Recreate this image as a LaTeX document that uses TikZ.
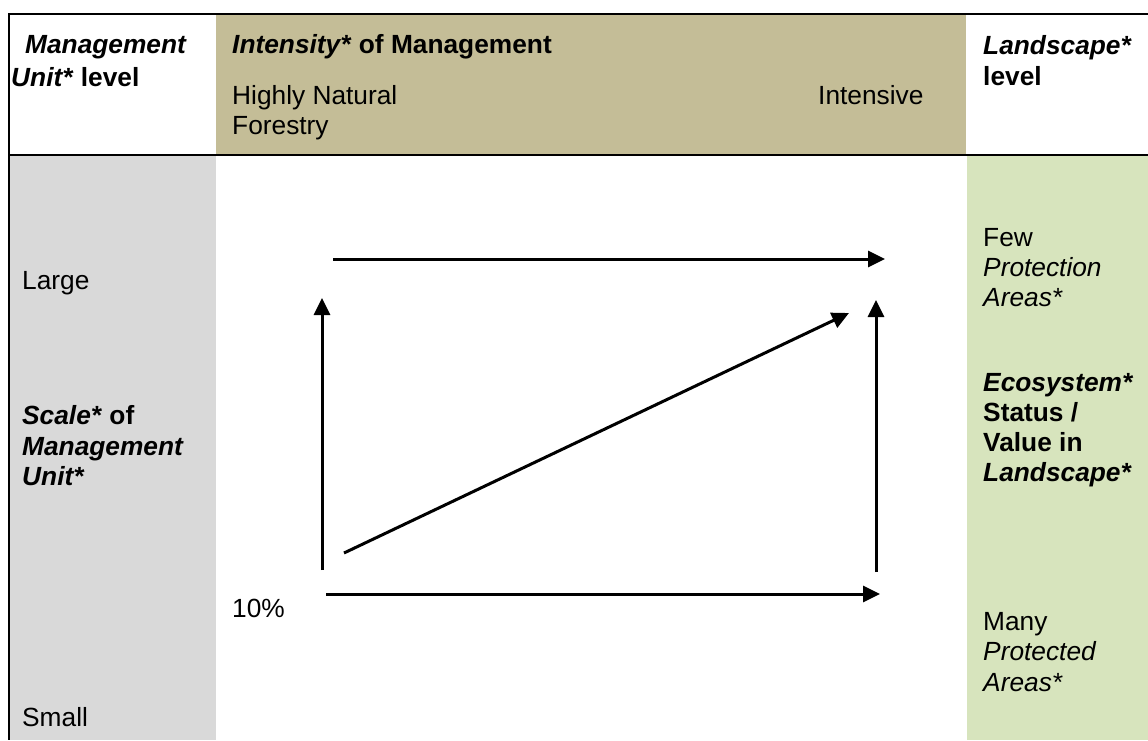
\documentclass[tikz,border=0pt]{standalone}
\usepackage{fontspec}
\setmainfont{Liberation Sans}
\usetikzlibrary{arrows.meta}
\definecolor{tancol}{HTML}{C4BD97}
\definecolor{graycol}{HTML}{D9D9D9}
\definecolor{greencol}{HTML}{D7E4BD}
\tikzset{
  txt/.style={anchor=base west,inner sep=0pt,font=\fontsize{26.3}{30.5}\selectfont},
  btxt/.style={txt,font=\fontsize{26.3}{30.5}\selectfont\bfseries},
  arr/.style={line width=3pt,-{Triangle[length=17pt,width=16pt]}},
  border/.style={line width=2.2pt,black}
}
\begin{document}
\begin{tikzpicture}[x=1pt,y=-1pt]
\useasboundingbox (0,0) rectangle (1148,740);
% cell fills
\fill[tancol] (216,15) rectangle (966,154);
\fill[graycol] (10,156) rectangle (216,740);
\fill[greencol] (967,156) rectangle (1148,740);
% borders
\draw[border] (9,14) -- (1148,14);
\draw[border] (9,155) -- (1148,155);
\draw[border] (9,13) -- (9,740);
% header left
\node[btxt] (hl1) at (25,53) {\textit{Management}};
\node[btxt] (hl2) at (11,86) {\textit{Unit*} level};
% header middle
\node[btxt] (hm1) at (232,53) {\textit{Intensity*} of Management};
\node[txt] (hm2) at (232,104) {Highly Natural};
\node[txt] (hm3) at (232,134) {Forestry};
\node[txt] (hm4) at (818,104) {Intensive};
% header right
\node[btxt] (hr1) at (983,54) {\textit{Landscape*}};
\node[btxt] (hr2) at (983,85) {level};
% left column
\node[txt] (large) at (22,289) {Large};
\node[btxt] (sc1) at (22,424) {\textit{Scale*} of};
\node[btxt] (sc2) at (22,455) {\textit{Management}};
\node[btxt] (sc3) at (22,485) {\textit{Unit*}};
\node[txt] (small) at (22,726) {Small};
% middle
\node[txt] (pct) at (232,617) {10\%};
% right column
\node[txt] (few1) at (983,246) {Few};
\node[txt] (few2) at (983,276) {\textit{Protection}};
\node[txt] (few3) at (983,306) {\textit{Areas*}};
\node[btxt] (eco1) at (983,391) {\textit{Ecosystem*}};
\node[btxt] (eco2) at (983,421) {Status /};
\node[btxt] (eco3) at (983,451) {Value in};
\node[btxt] (eco4) at (983,481) {\textit{Landscape*}};
\node[txt] (many1) at (983,630) {Many};
\node[txt] (many2) at (983,660) {\textit{Protected}};
\node[txt] (many3) at (983,691) {\textit{Areas*}};
% arrow end points
\coordinate (ta) at (333,259);
\coordinate (tb) at (885,259);
\coordinate (lb) at (322,570);
\coordinate (lt) at (322,298);
\coordinate (rb) at (876,572);
\coordinate (rt) at (876,300);
\coordinate (da) at (344,553);
\coordinate (db) at (849,313);
\coordinate (ba) at (326,594);
\coordinate (bb) at (880,594);
\draw[arr] (ta) -- (tb);
\draw[arr] (lb) -- (lt);
\draw[arr] (rb) -- (rt);
\draw[arr] (da) -- (db);
\draw[arr] (ba) -- (bb);
\end{tikzpicture}
\end{document}
